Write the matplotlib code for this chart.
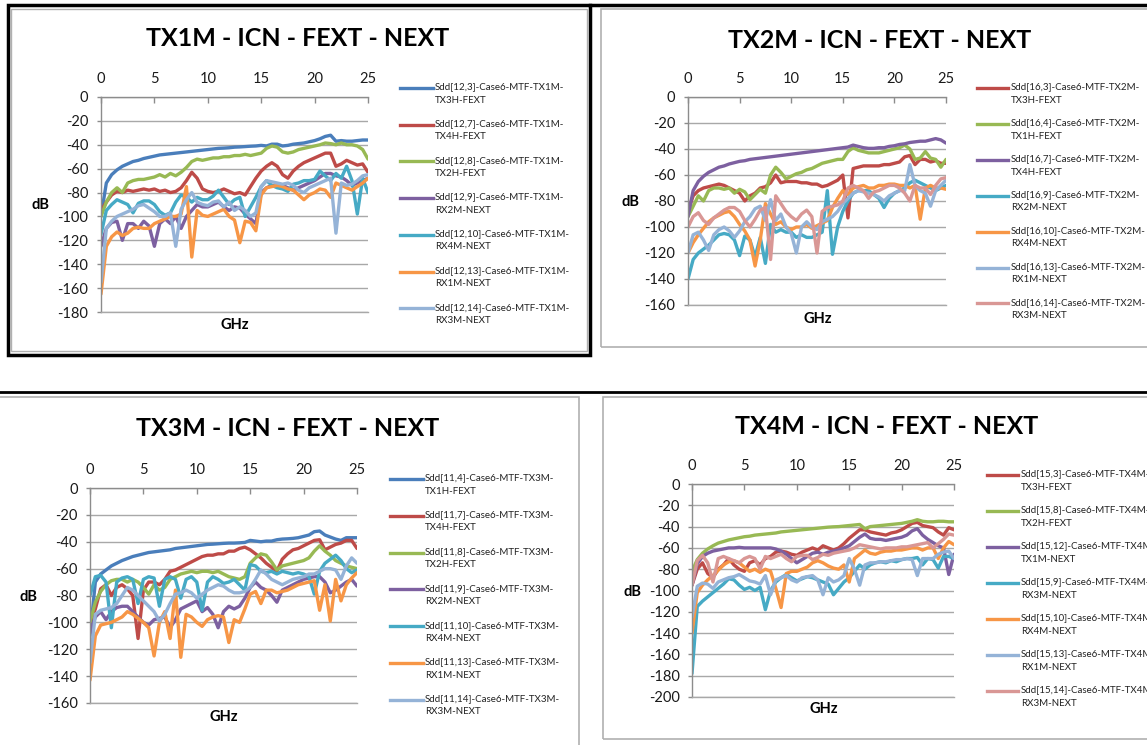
import matplotlib
matplotlib.use("Agg")
import matplotlib.pyplot as plt
from matplotlib.lines import Line2D
from matplotlib.patches import Rectangle

plt.rcParams['font.family'] = ['Lato', 'DejaVu Sans']
plt.rcParams['axes.unicode_minus'] = False

# frequency grid shared by every trace (GHz)
freq_ghz = [i * 0.5 for i in range(51)]

# ---- TX1M panel (dB) ----
tx1m_12_3 = [-100, -72, -65, -61, -58, -56, -54, -53, -51.5, -50.5,
             -49.5, -48.5, -48, -47.5, -47, -46.5, -46, -45.5, -45, -44.5,
             -44, -43.5, -43, -42.8, -42.5, -42, -41.8, -41.5, -41.2, -41,
             -40.5, -41, -39.5, -39.5, -41, -40.5, -39.5, -39, -38.5, -37.5,
             -36.5, -35, -33, -32, -37, -36.5, -37, -37, -36.5, -36, -36]
tx1m_12_7 = [-95, -88, -82, -79, -80, -78, -79, -78, -77, -78,
             -77, -79, -78, -80, -79, -76, -70, -63, -68, -77,
             -79, -80, -79, -77, -79, -81, -80, -82, -75, -68,
             -62, -58, -55, -58, -65, -68, -62, -58, -55, -53,
             -51, -49, -47, -47, -58, -56, -53, -55, -57, -56, -63]
tx1m_12_8 = [-100, -88, -80, -76, -80, -72, -70, -69, -69, -68,
             -67, -65, -67, -64, -66, -63, -59, -54, -52, -53,
             -52, -51, -51, -50, -50, -49, -49, -48, -49, -48,
             -47, -43, -41, -42, -46, -47, -46, -44, -43, -42,
             -41, -40, -38.5, -39, -40, -38.5, -40, -40, -41, -44, -52]
tx1m_12_9 = [-125, -110, -105, -104, -120, -106, -106, -110, -104, -108,
             -125, -106, -102, -106, -100, -110, -100, -95, -90, -92,
             -92, -90, -88, -92, -95, -92, -93, -98, -102, -106,
             -80, -76, -74, -75, -74, -76, -78, -76, -74, -72,
             -70, -67, -64, -64, -66, -67, -70, -74, -72, -70, -68]
tx1m_12_10 = [-115, -95, -90, -86, -88, -90, -97, -89, -87, -87,
              -90, -96, -99, -97, -88, -82, -84, -88, -84, -86,
              -86, -83, -78, -84, -90, -86, -84, -100, -92, -84,
              -75, -70, -74, -76, -77, -79, -73, -72, -70, -70,
              -69, -62, -66, -70, -64, -68, -58, -70, -98, -68, -80]
tx1m_12_13 = [-165, -125, -117, -113, -116, -114, -110, -109, -110, -110,
              -106, -104, -102, -100, -100, -98, -75, -134, -95, -99,
              -100, -98, -96, -94, -100, -103, -122, -104, -105, -112,
              -82, -76, -75, -74, -75, -77, -78, -82, -86, -82,
              -80, -77, -78, -84, -72, -74, -76, -78, -75, -72, -68]
tx1m_12_14 = [-155, -110, -104, -100, -98, -96, -94, -91, -90, -93,
              -96, -100, -100, -97, -125, -94, -86, -80, -88, -90,
              -91, -88, -87, -92, -88, -95, -92, -95, -100, -97,
              -75, -70, -71, -72, -73, -72, -74, -78, -80, -76,
              -74, -72, -70, -68, -114, -72, -74, -73, -70, -66, -65]

# ---- TX2M panel (dB) ----
tx2m_16_3 = [-88, -76, -72, -70, -69, -68, -67, -68, -70, -72,
             -74, -80, -76, -74, -70, -69, -66, -60, -66, -65,
             -65, -65, -66, -66, -67, -67, -69, -68, -66, -64,
             -60, -93, -55, -54, -53, -53, -53, -53, -52, -52,
             -51, -50, -46, -45, -52, -48, -48, -50, -49, -51, -51]
tx2m_16_4 = [-92, -84, -76, -80, -72, -70, -70, -71, -70, -74,
             -71, -73, -79, -75, -71, -74, -60, -54, -58, -63,
             -61, -59, -58, -56, -55, -53, -51, -50, -49, -48,
             -48, -42, -39, -41, -42, -43, -43, -43, -42, -41,
             -40, -39, -37, -40, -48, -47, -42, -47, -48, -54, -48]
tx2m_16_7 = [-92, -72, -65, -61, -58, -56, -54, -53, -51.5, -50.5,
             -49.5, -49, -48, -47.5, -47, -46.5, -46, -45.5, -45, -44.5,
             -44, -43.5, -43, -42.5, -42, -41.5, -41, -40.5, -40, -39.5,
             -39, -38.5, -37, -38, -39, -39.5, -39.5, -39, -39, -38,
             -37.5, -36.5, -36, -35, -34.5, -34, -34, -33, -32, -33, -35.5]
tx2m_16_9 = [-140, -125, -120, -117, -114, -110, -106, -105, -106, -110,
             -122, -107, -110, -123, -108, -128, -98, -104, -102, -104,
             -104, -108, -106, -108, -108, -106, -104, -72, -121, -100,
             -88, -80, -74, -72, -72, -72, -75, -78, -85, -78,
             -74, -72, -70, -66, -64, -66, -68, -70, -72, -70, -68]
tx2m_16_10 = [-120, -112, -106, -101, -96, -93, -91, -89, -88, -92,
              -98, -103, -110, -130, -110, -82, -90, -98, -96, -100,
              -102, -100, -100, -98, -101, -99, -97, -95, -85, -78,
              -72, -75, -70, -69, -68, -70, -70, -68, -68, -67,
              -67, -68, -68, -70, -68, -94, -70, -68, -70, -70, -71]
tx2m_16_13 = [-120, -106, -104, -110, -118, -106, -102, -100, -103, -108,
              -103, -96, -92, -86, -84, -95, -79, -95, -90, -100,
              -105, -120, -100, -96, -100, -102, -96, -94, -92, -88,
              -82, -78, -74, -72, -73, -74, -75, -77, -80, -76,
              -74, -72, -72, -52, -68, -72, -74, -84, -72, -68, -64]
tx2m_16_14 = [-100, -92, -89, -95, -98, -93, -90, -87, -85, -85,
              -88, -95, -100, -94, -87, -85, -125, -76, -82, -88,
              -92, -95, -90, -87, -92, -120, -88, -85, -84, -83,
              -80, -70, -68, -70, -72, -78, -73, -72, -70, -68,
              -68, -70, -74, -80, -68, -70, -70, -75, -68, -63, -62]

# ---- TX3M panel (dB) ----
tx3m_11_4 = [-110, -70, -64, -61, -58, -56, -54, -52.5, -51, -50,
             -49, -48, -47.5, -47, -46.5, -46, -45, -44.5, -44, -43.5,
             -43, -42.5, -42, -41.8, -41.5, -41.2, -41, -41, -40.8, -40.5,
             -39, -39.5, -40, -39.5, -39.5, -38.5, -38, -37.8, -37.5, -37,
             -36, -35, -32.5, -32, -35, -36.5, -38, -39, -37, -37, -37]
tx3m_11_7 = [-100, -90, -75, -72, -80, -74, -72, -75, -80, -112,
             -76, -70, -70, -72, -68, -62, -61, -59, -57, -55,
             -53, -51, -50, -50, -49, -49, -47, -47, -45, -44,
             -46, -49, -52, -56, -59, -62, -53, -49, -46, -45,
             -43, -41, -39, -38.5, -46, -44, -42, -41, -39, -39, -45]
tx3m_11_8 = [-100, -85, -77, -72, -69, -68, -68, -70, -68, -70,
             -74, -79, -72, -76, -74, -68, -66, -64, -63, -62,
             -63, -62, -62, -63, -62, -64, -66, -67, -68, -66,
             -56, -52, -49, -50, -55, -61, -58, -57, -56, -55,
             -54, -52, -47, -43, -47, -50, -54, -56, -58, -59, -60]
tx3m_11_9 = [-108, -96, -92, -98, -92, -89, -88, -88, -92, -96,
             -100, -102, -98, -97, -96, -104, -98, -90, -88, -86,
             -84, -92, -89, -94, -104, -92, -88, -90, -88, -82,
             -74, -70, -74, -76, -80, -85, -76, -74, -72, -70,
             -68, -67, -66, -66, -70, -78, -76, -73, -70, -68, -73]
tx3m_11_10 = [-80, -66, -65, -70, -104, -70, -67, -66, -68, -86,
              -68, -66, -67, -88, -68, -66, -68, -82, -68, -66,
              -70, -91, -70, -66, -68, -71, -70, -68, -72, -76,
              -57, -58, -62, -63, -62, -64, -62, -63, -64, -63,
              -64, -66, -79, -62, -56, -53, -50, -54, -60, -63, -61]
tx3m_11_13 = [-143, -110, -102, -101, -100, -98, -96, -92, -94, -97,
              -100, -104, -125, -100, -92, -112, -76, -126, -94, -96,
              -100, -103, -98, -96, -95, -96, -115, -98, -100, -90,
              -79, -77, -86, -76, -76, -78, -77, -76, -74, -72,
              -71, -70, -69, -91, -72, -99, -68, -84, -72, -67, -63]
tx3m_11_14 = [-130, -94, -91, -90, -89, -86, -80, -74, -76, -80,
              -84, -88, -92, -99, -94, -86, -79, -78, -76, -78,
              -82, -79, -76, -74, -72, -73, -76, -78, -78, -77,
              -74, -68, -61, -64, -68, -70, -72, -70, -68, -67,
              -66, -64, -64, -62, -60, -60, -61, -68, -58, -52, -56]

# ---- TX4M panel (dB) ----
tx4m_15_3 = [-95, -80, -74, -84, -88, -80, -76, -70, -76, -80,
             -82, -74, -72, -76, -70, -68, -64, -63, -64, -66,
             -67, -64, -62, -60, -62, -58, -60, -62, -60, -56,
             -51, -47, -43, -43, -45, -46, -47, -48, -46, -45,
             -43, -40, -37, -36, -39, -40, -41, -45, -48, -41, -43]
tx4m_15_8 = [-82, -71, -65, -61, -58, -55.5, -54, -52.5, -51.5, -50.5,
             -49.5, -49, -48, -47.5, -47, -46.5, -46, -45, -44.5, -44,
             -43.5, -43, -42.5, -42, -41.5, -41, -40.5, -40.2, -40, -39.5,
             -39, -38.5, -38, -42, -40, -39.5, -39, -38.5, -38, -37.5,
             -37, -36, -35, -33.5, -35, -35.5, -35.5, -35, -35, -35.5, -35.5]
tx4m_15_12 = [-95, -75, -68, -65, -63, -62, -61, -60, -60, -59.5,
              -60, -60, -60, -60, -60, -60, -61, -63, -66, -70,
              -74, -71, -68, -65, -64, -66, -64, -63, -62, -60,
              -58, -54, -50, -47, -51, -52, -52, -53, -52, -51,
              -50, -48, -44, -42, -48, -52, -55, -58, -60, -85, -66]
tx4m_15_9 = [-178, -115, -110, -106, -102, -98, -94, -89, -90, -95,
             -99, -97, -100, -97, -118, -100, -92, -88, -85, -88,
             -91, -89, -87, -88, -90, -92, -94, -104, -98, -92,
             -88, -82, -76, -80, -76, -74, -73, -74, -72, -73,
             -71, -70, -70, -69, -76, -70, -71, -79, -68, -68, -70]
tx4m_15_10 = [-140, -102, -95, -90, -86, -81, -76, -73, -72, -74,
              -78, -82, -80, -83, -80, -82, -98, -116, -84, -82,
              -82, -80, -78, -74, -72, -74, -77, -79, -80, -76,
              -92, -70, -66, -62, -65, -66, -64, -63, -63, -62,
              -62, -61, -60, -60, -62, -60, -60, -70, -60, -54, -57]
tx4m_15_13 = [-125, -96, -93, -94, -98, -92, -90, -88, -87, -85,
              -88, -91, -92, -94, -86, -104, -90, -88, -86, -90,
              -92, -88, -87, -86, -90, -104, -88, -92, -90, -86,
              -70, -80, -95, -76, -74, -74, -73, -73, -72, -71,
              -71, -70, -71, -86, -70, -70, -70, -66, -64, -63, -70]
tx4m_15_14 = [-95, -72, -67, -74, -92, -70, -68, -70, -72, -74,
              -70, -68, -70, -80, -68, -70, -68, -66, -70, -73,
              -68, -67, -67, -71, -69, -66, -67, -65, -64, -63,
              -62, -60, -57, -58, -59, -60, -61, -60, -60, -60,
              -59, -59, -58, -57, -56, -55, -60, -56, -52, -47, -48]

BLUE = '#4a7ebb'
RED = '#be4b48'
GREEN = '#98b954'
PURPLE = '#7d60a0'
TEAL = '#46aac5'
ORANGE = '#f79646'
LIGHTBLUE = '#95b3d7'
PINK = '#d99795'

W, H = 1147, 745
fig = plt.figure(figsize=(W / 100, H / 100), dpi=100)


def fxy(x, y):
    return x / W, 1 - y / H


def box(x0, y0, x1, y1, color, lw):
    fig.add_artist(Rectangle(fxy(x0, y1), (x1 - x0) / W, (y1 - y0) / H,
                             transform=fig.transFigure, fill=False,
                             edgecolor=color, linewidth=lw))


def seg(x0, y0, x1, y1, color, lw):
    (a, b), (c, d) = fxy(x0, y0), fxy(x1, y1)
    fig.add_artist(Line2D([a, c], [b, d], transform=fig.transFigure,
                          color=color, linewidth=lw))


# chart frames
box(601, 9, 1152, 347, '#b0b0b0', 1.2)
box(-2, 397, 579, 750, '#b0b0b0', 1.2)
box(603, 397, 1152, 739, '#b0b0b0', 1.2)
box(11, 9, 587, 351, '#b0b0b0', 1.0)
box(8, 5, 590, 355, 'black', 2.5)
seg(590, 5, 1147, 5, 'black', 2.5)
seg(0, 392, 1147, 392, 'black', 2.0)

panels = [
    dict(title='TX1M - ICN - FEXT - NEXT', title_xy=(298, 38),
         plot=(101, 368, 97, 312), ymin=-180, db_xy=(41, 205), ghz_xy=(235, 325),
         legend=(400, 433, 435, 88, 36.7),
         series=[(tx1m_12_3, BLUE, 'Sdd[12,3]-Case6-MTF-TX1M-\nTX3H-FEXT'),
                 (tx1m_12_7, RED, 'Sdd[12,7]-Case6-MTF-TX1M-\nTX4H-FEXT'),
                 (tx1m_12_8, GREEN, 'Sdd[12,8]-Case6-MTF-TX1M-\nTX2H-FEXT'),
                 (tx1m_12_9, PURPLE, 'Sdd[12,9]-Case6-MTF-TX1M-\nRX2M-NEXT'),
                 (tx1m_12_10, TEAL, 'Sdd[12,10]-Case6-MTF-TX1M-\nRX4M-NEXT'),
                 (tx1m_12_13, ORANGE, 'Sdd[12,13]-Case6-MTF-TX1M-\nRX1M-NEXT'),
                 (tx1m_12_14, LIGHTBLUE, 'Sdd[12,14]-Case6-MTF-TX1M-\nRX3M-NEXT')]),
    dict(title='TX2M - ICN - FEXT - NEXT', title_xy=(880, 40),
         plot=(688, 946, 97, 305), ymin=-160, db_xy=(630, 202), ghz_xy=(818, 319),
         legend=(977, 1008, 1011, 88, 35.9),
         series=[(tx2m_16_3, RED, 'Sdd[16,3]-Case6-MTF-TX2M-\nTX3H-FEXT'),
                 (tx2m_16_4, GREEN, 'Sdd[16,4]-Case6-MTF-TX2M-\nTX1H-FEXT'),
                 (tx2m_16_7, PURPLE, 'Sdd[16,7]-Case6-MTF-TX2M-\nTX4H-FEXT'),
                 (tx2m_16_9, TEAL, 'Sdd[16,9]-Case6-MTF-TX2M-\nRX2M-NEXT'),
                 (tx2m_16_10, ORANGE, 'Sdd[16,10]-Case6-MTF-TX2M-\nRX4M-NEXT'),
                 (tx2m_16_13, LIGHTBLUE, 'Sdd[16,13]-Case6-MTF-TX2M-\nRX1M-NEXT'),
                 (tx2m_16_14, PINK, 'Sdd[16,14]-Case6-MTF-TX2M-\nRX3M-NEXT')]),
    dict(title='TX3M - ICN - FEXT - NEXT', title_xy=(288, 428),
         plot=(90, 357, 488, 703), ymin=-160, db_xy=(29, 597), ghz_xy=(224, 717),
         legend=(390, 423, 425, 479, 36.8),
         series=[(tx3m_11_4, BLUE, 'Sdd[11,4]-Case6-MTF-TX3M-\nTX1H-FEXT'),
                 (tx3m_11_7, RED, 'Sdd[11,7]-Case6-MTF-TX3M-\nTX4H-FEXT'),
                 (tx3m_11_8, GREEN, 'Sdd[11,8]-Case6-MTF-TX3M-\nTX2H-FEXT'),
                 (tx3m_11_9, PURPLE, 'Sdd[11,9]-Case6-MTF-TX3M-\nRX2M-NEXT'),
                 (tx3m_11_10, TEAL, 'Sdd[11,10]-Case6-MTF-TX3M-\nRX4M-NEXT'),
                 (tx3m_11_13, ORANGE, 'Sdd[11,13]-Case6-MTF-TX3M-\nRX1M-NEXT'),
                 (tx3m_11_14, LIGHTBLUE, 'Sdd[11,14]-Case6-MTF-TX3M-\nRX3M-NEXT')]),
    dict(title='TX4M - ICN - FEXT - NEXT', title_xy=(887, 426),
         plot=(692, 954, 484, 697), ymin=-200, db_xy=(632, 592), ghz_xy=(824, 709),
         legend=(987, 1018, 1021, 475, 36.0),
         series=[(tx4m_15_3, RED, 'Sdd[15,3]-Case6-MTF-TX4M-\nTX3H-FEXT'),
                 (tx4m_15_8, GREEN, 'Sdd[15,8]-Case6-MTF-TX4M-\nTX2H-FEXT'),
                 (tx4m_15_12, PURPLE, 'Sdd[15,12]-Case6-MTF-TX4M-\nTX1M-NEXT'),
                 (tx4m_15_9, TEAL, 'Sdd[15,9]-Case6-MTF-TX4M-\nRX3M-NEXT'),
                 (tx4m_15_10, ORANGE, 'Sdd[15,10]-Case6-MTF-TX4M-\nRX4M-NEXT'),
                 (tx4m_15_13, LIGHTBLUE, 'Sdd[15,13]-Case6-MTF-TX4M-\nRX1M-NEXT'),
                 (tx4m_15_14, PINK, 'Sdd[15,14]-Case6-MTF-TX4M-\nRX3M-NEXT')]),
]

AXIS_GREY = '#8c8c8c'
GRID_GREY = '#a8a8a8'

for p in panels:
    x0, x1, y0, y1 = p['plot']
    l, b = fxy(x0, y1)
    ax = fig.add_axes([l, b, (x1 - x0) / W, (y1 - y0) / H])
    for values, color, label in p['series']:
        ax.plot(freq_ghz, values, color=color, linewidth=2.4,
                solid_joinstyle='round', solid_capstyle='round')

    ax.set_xlim(0, 25)
    ax.set_ylim(p['ymin'], 0)
    ax.set_xticks(range(0, 26, 5))
    ax.set_yticks(range(p['ymin'], 1, 20))
    ax.xaxis.tick_top()
    ax.tick_params(axis='x', direction='in', length=4, width=1, color=AXIS_GREY,
                   pad=8, labelsize=10.5, labelcolor='#1a1a1a')
    ax.tick_params(axis='y', direction='out', length=3, width=1, color=AXIS_GREY,
                   pad=6, labelsize=10.5, labelcolor='#1a1a1a')
    ax.yaxis.grid(True, color=GRID_GREY, linewidth=1)
    ax.set_axisbelow(True)
    ax.spines['right'].set_visible(False)
    ax.spines['top'].set_color(AXIS_GREY)
    ax.spines['left'].set_color(AXIS_GREY)
    ax.spines['bottom'].set_color(GRID_GREY)
    for s in ax.spines.values():
        s.set_linewidth(1)
    ax.patch.set_alpha(0)

    tx, ty = fxy(*p['title_xy'])
    fig.text(tx, ty, p['title'], ha='center', va='center',
             fontsize=18, fontweight='bold', color='black')
    dx, dy = fxy(*p['db_xy'])
    fig.text(dx, dy, 'dB', ha='center', va='center', fontsize=10.5, fontweight='bold')
    gx, gy = fxy(*p['ghz_xy'])
    fig.text(gx, gy, 'GHz', ha='center', va='center', fontsize=10.5, fontweight='bold')

    lx0, lx1, ltx, ly, step = p['legend']
    for i, (values, color, label) in enumerate(p['series']):
        yy = ly + i * step
        seg(lx0, yy, lx1, yy, color, 2.4)
        px, py = fxy(ltx, yy - 5.5)
        fig.text(px, py, label, ha='left', va='top', fontsize=7.0,
                 linespacing=1.6, color='#222222')

fig.savefig('out.png', dpi=100)
